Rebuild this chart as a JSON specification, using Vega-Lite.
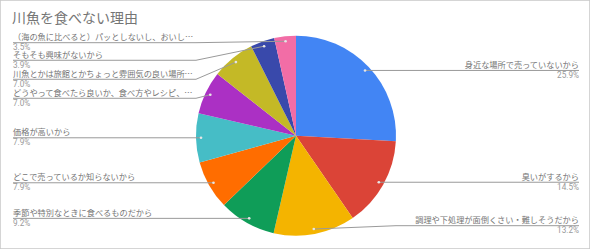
{
  "$schema": "https://vega.github.io/schema/vega-lite/v6.json",
  "width": 590,
  "height": 249,
  "autosize": "none",
  "padding": 0,
  "background": "white",
  "config": {
    "view": {"stroke": "#c8c8c8", "strokeWidth": 1.5},
    "font": "Noto Sans CJK JP"
  },
  "title": {
    "text": "川魚を食べない理由",
    "anchor": "start",
    "frame": "group",
    "orient": "top",
    "offset": -26,
    "dx": 12,
    "fontSize": 14,
    "fontWeight": "normal",
    "color": "#757575",
    "font": "Noto Sans CJK JP"
  },
  "data": {
    "values": [
      {"i": 1, "reason": "身近な場所で売っていないから", "value": 25.9},
      {"i": 2, "reason": "臭いがするから", "value": 14.5},
      {"i": 3, "reason": "調理や下処理が面倒くさい・難しそうだから", "value": 13.2},
      {"i": 4, "reason": "季節や特別なときに食べるものだから", "value": 9.2},
      {"i": 5, "reason": "どこで売っているか知らないから", "value": 7.9},
      {"i": 6, "reason": "価格が高いから", "value": 7.9},
      {"i": 7, "reason": "どうやって食べたら良いか、食べ方やレシピ、…", "value": 7.0},
      {"i": 8, "reason": "川魚とかは旅館とかちょっと雰囲気の良い場所…", "value": 7.0},
      {"i": 9, "reason": "そもそも興味がないから", "value": 3.9},
      {"i": 10, "reason": "（海の魚に比べると）パッとしないし、おいし…", "value": 3.5}
    ]
  },
  "transform": [
    {"window": [{"op": "sum", "field": "value", "as": "cum"}], "sort": [{"field": "i"}], "frame": [null, 0]},
    {"joinaggregate": [{"op": "sum", "field": "value", "as": "total"}]},
    {"calculate": "2 * PI * (datum.cum - datum.value / 2) / datum.total", "as": "mid"},
    {"calculate": "0.95 * sin(datum.mid)", "as": "dotX"},
    {"calculate": "0.95 * cos(datum.mid)", "as": "dotY"},
    {"calculate": "datum.dotX < 0 ? -1 : 1", "as": "side"},
    {"window": [{"op": "row_number", "as": "k"}], "groupby": ["side"], "sort": [{"field": "dotY", "order": "descending"}]},
    {"calculate": "datum.dotY + datum.k * 0.19", "as": "t"},
    {"window": [{"op": "min", "field": "t", "as": "tmin"}], "groupby": ["side"], "sort": [{"field": "dotY", "order": "descending"}], "frame": [null, 0]},
    {"calculate": "max(min(datum.tmin - datum.k * 0.19, 0.93), -0.9)", "as": "lineY"},
    {"calculate": "datum.side * 1.0", "as": "elbowX"},
    {"calculate": "datum.side * 2.83", "as": "endX"},
    {"calculate": "format(datum.value / datum.total * 100, '.1f') + '%'", "as": "pct"}
  ],
  "layer": [
    {
      "mark": {"type": "arc", "outerRadius": 100},
      "encoding": {
        "x": {"datum": 0, "type": "quantitative", "scale": {"domain": [-2.96, 2.94], "nice": false, "zero": false}, "axis": null},
        "y": {"datum": 0, "type": "quantitative", "scale": {"domain": [-1.133, 1.357], "nice": false, "zero": false}, "axis": null},
        "theta": {"field": "value", "type": "quantitative", "stack": true},
        "order": {"field": "i", "type": "quantitative", "sort": "ascending"},
        "color": {
          "field": "reason",
          "type": "nominal",
          "legend": null,
          "sort": {"field": "i"},
          "scale": {
            "domain": [
              "身近な場所で売っていないから",
              "臭いがするから",
              "調理や下処理が面倒くさい・難しそうだから",
              "季節や特別なときに食べるものだから",
              "どこで売っているか知らないから",
              "価格が高いから",
              "どうやって食べたら良いか、食べ方やレシピ、…",
              "川魚とかは旅館とかちょっと雰囲気の良い場所…",
              "そもそも興味がないから",
              "（海の魚に比べると）パッとしないし、おいし…"
            ],
            "range": ["#4285F4", "#DB4437", "#F4B400", "#0F9D58", "#FF6D00", "#46BDC6", "#AB30C4", "#C4B926", "#3949AB", "#F26DA6"]
          }
        }
      }
    },
    {
      "mark": {"type": "rule", "color": "#9a9a9a", "strokeWidth": 1},
      "encoding": {
        "x": {"field": "endX", "type": "quantitative"},
        "x2": {"field": "elbowX"},
        "y": {"field": "lineY", "type": "quantitative"},
        "y2": {"field": "lineY"}
      }
    },
    {
      "mark": {"type": "rule", "color": "#9a9a9a", "strokeWidth": 1},
      "encoding": {
        "x": {"field": "elbowX", "type": "quantitative"},
        "x2": {"field": "dotX"},
        "y": {"field": "lineY", "type": "quantitative"},
        "y2": {"field": "dotY"}
      }
    },
    {
      "mark": {"type": "point", "filled": true, "color": "#e6e6e6", "size": 7, "opacity": 1},
      "encoding": {
        "x": {"field": "dotX", "type": "quantitative"},
        "y": {"field": "dotY", "type": "quantitative"}
      }
    },
    {
      "transform": [{"filter": "datum.side < 0"}],
      "mark": {"type": "text", "align": "left", "baseline": "alphabetic", "dy": -2.5, "fontSize": 8.2, "color": "#757575"},
      "encoding": {
        "x": {"field": "endX", "type": "quantitative"},
        "y": {"field": "lineY", "type": "quantitative"},
        "text": {"field": "reason"}
      }
    },
    {
      "transform": [{"filter": "datum.side < 0"}],
      "mark": {"type": "text", "align": "left", "baseline": "top", "dy": 1.5, "fontSize": 8.2, "color": "#9a9a9a", "font": "Roboto"},
      "encoding": {
        "x": {"field": "endX", "type": "quantitative"},
        "y": {"field": "lineY", "type": "quantitative"},
        "text": {"field": "pct"}
      }
    },
    {
      "transform": [{"filter": "datum.side > 0"}],
      "mark": {"type": "text", "align": "right", "baseline": "alphabetic", "dy": -2.5, "fontSize": 8.2, "color": "#757575"},
      "encoding": {
        "x": {"field": "endX", "type": "quantitative"},
        "y": {"field": "lineY", "type": "quantitative"},
        "text": {"field": "reason"}
      }
    },
    {
      "transform": [{"filter": "datum.side > 0"}],
      "mark": {"type": "text", "align": "right", "baseline": "top", "dy": 1.5, "fontSize": 8.2, "color": "#9a9a9a", "font": "Roboto"},
      "encoding": {
        "x": {"field": "endX", "type": "quantitative"},
        "y": {"field": "lineY", "type": "quantitative"},
        "text": {"field": "pct"}
      }
    }
  ]
}
